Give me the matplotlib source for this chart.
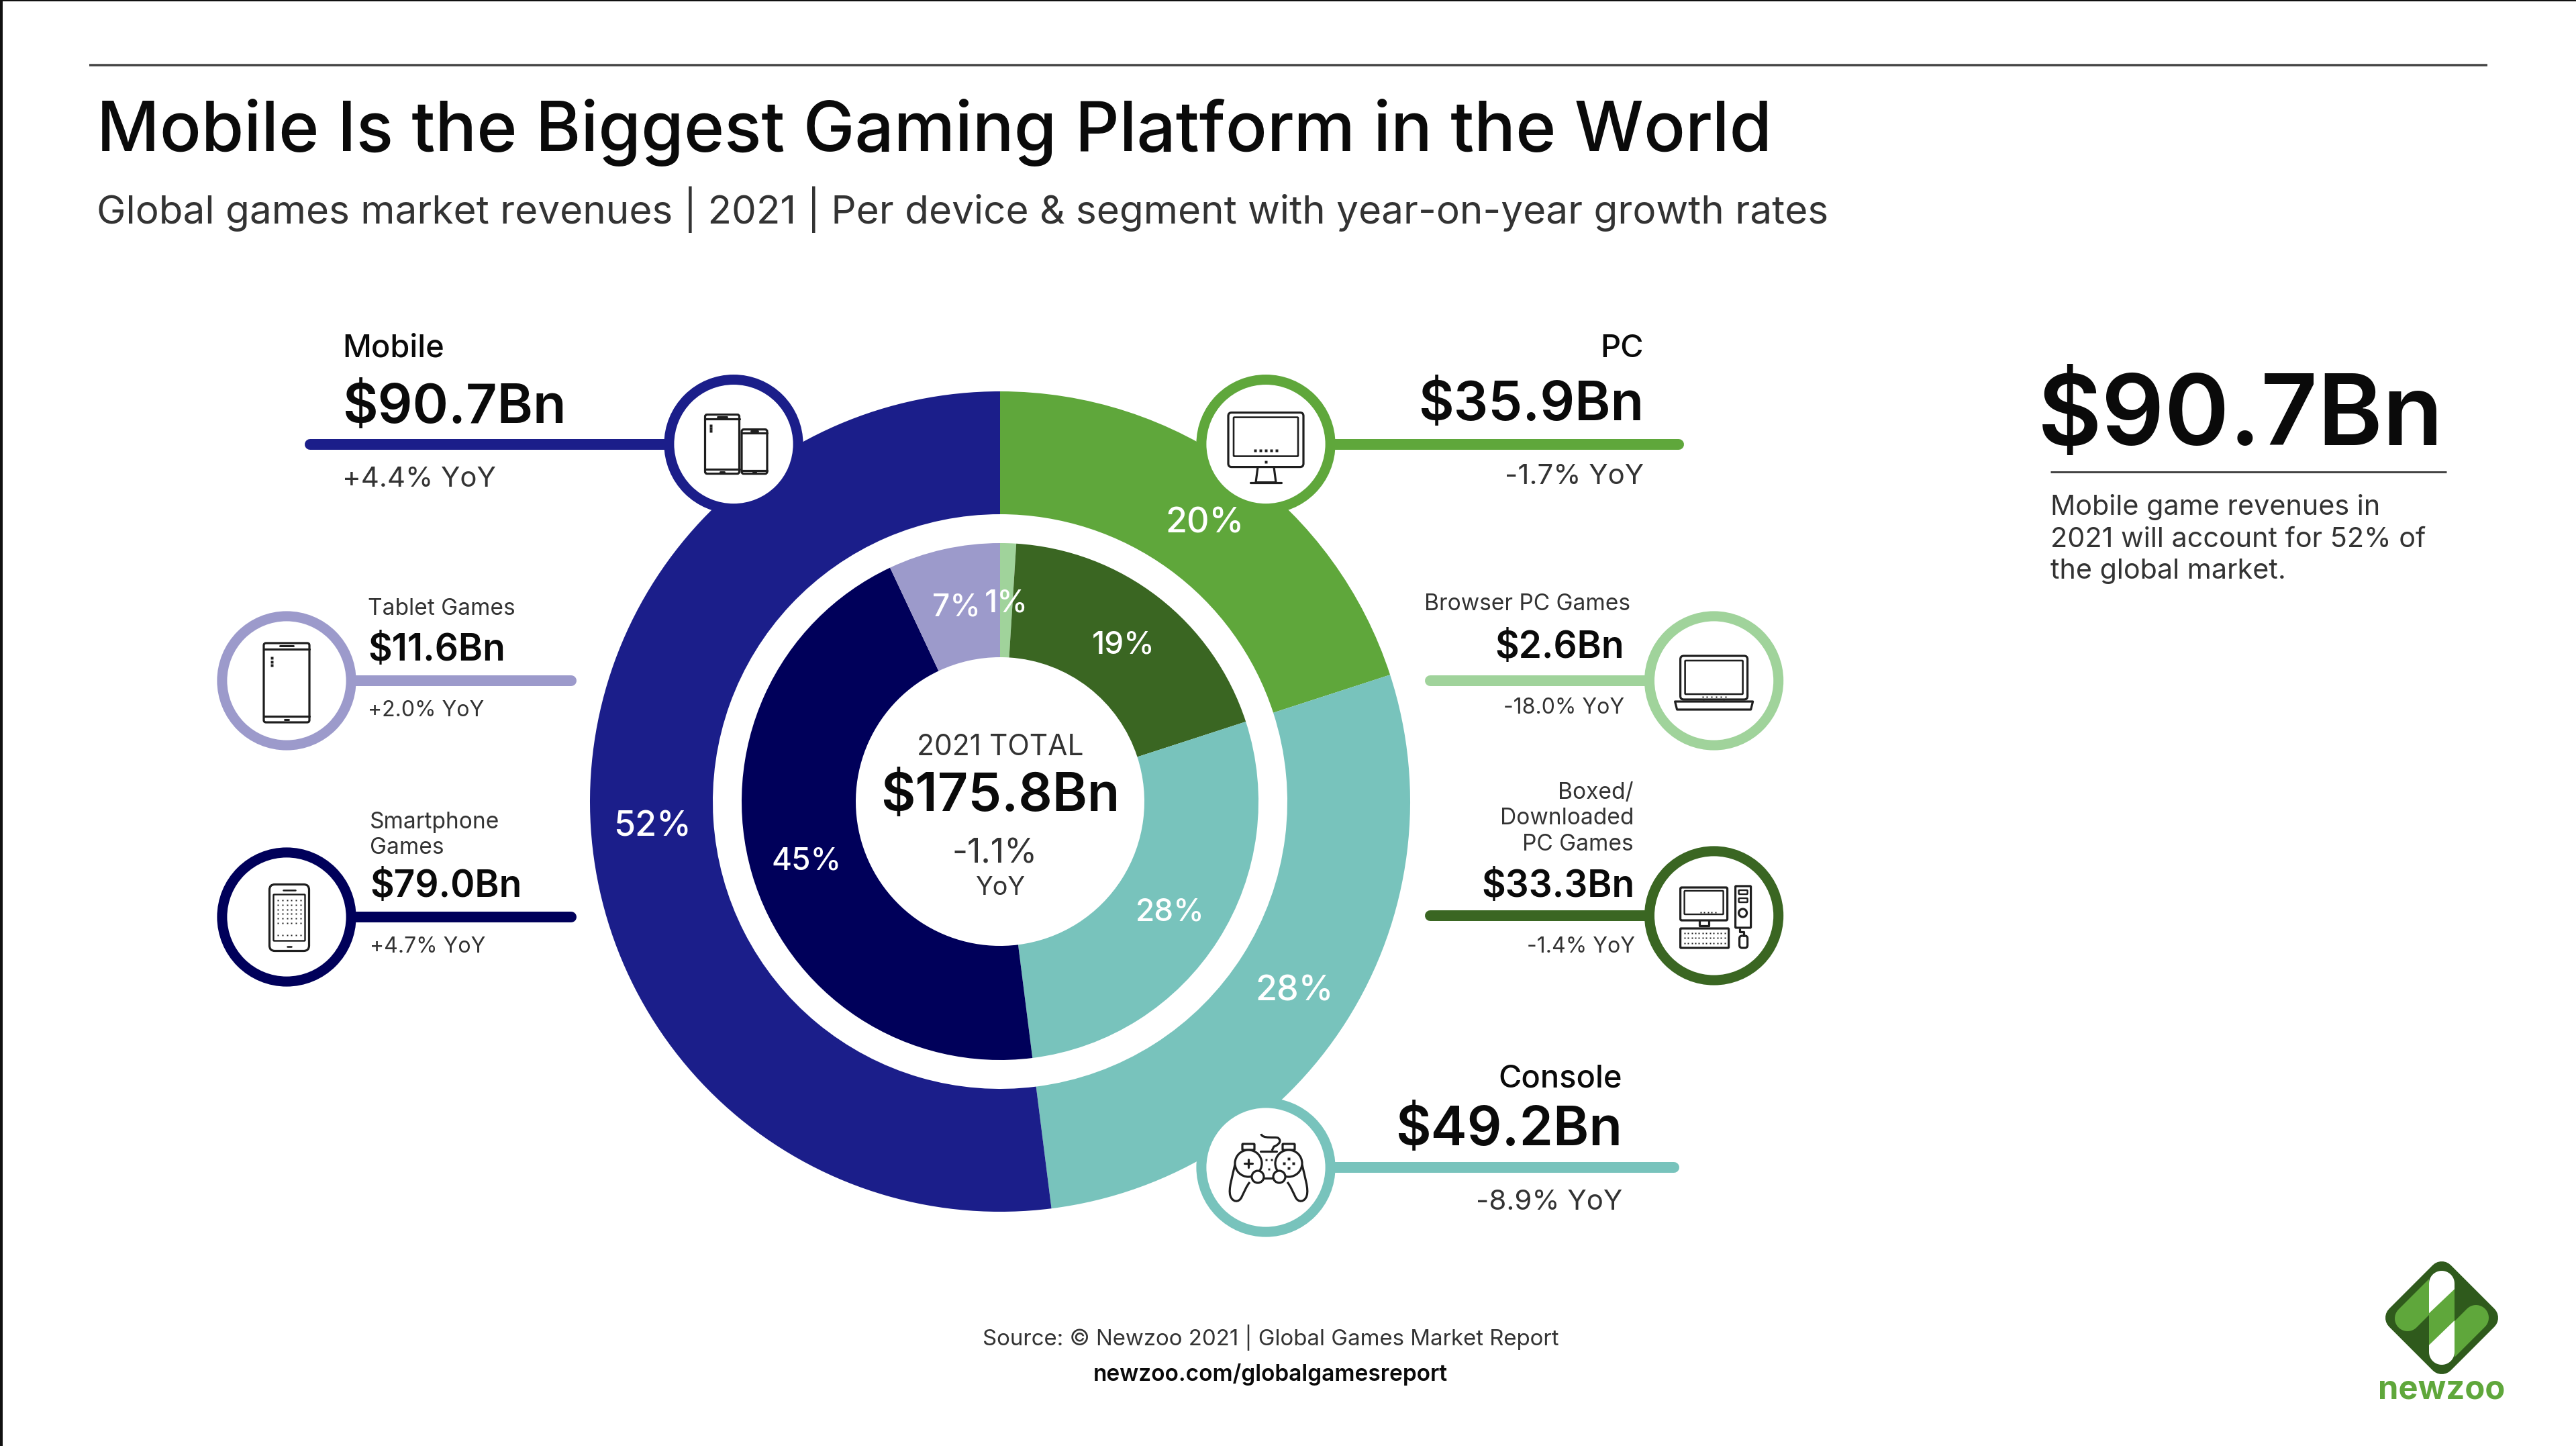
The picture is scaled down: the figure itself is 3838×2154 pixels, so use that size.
#!/usr/bin/env python3
"""Global games market revenues 2021, nested donut with callouts."""

import matplotlib

matplotlib.use("Agg")

import matplotlib.pyplot as plt
import numpy as np
from matplotlib.patches import Circle, FancyBboxPatch, Polygon, Rectangle, PathPatch
from matplotlib.path import Path

W, H = 3838, 2154
PX = 0.72  # pixels to points at dpi=100

plt.rcParams["font.family"] = ["Inter", "DejaVu Sans"]

INK = "#0a0a0a"
GREY = "#333333"
ICON = "#1e1e1e"

# outer ring, clockwise from the top
outer_names = ["PC", "Console", "Mobile"]
outer_share = [20, 28, 52]
outer_colors = ["#5FA73B", "#78C3BC", "#1B1E8A"]

# inner ring, clockwise from the top
inner_names = ["Browser PC Games", "Boxed/Downloaded PC Games", "Console", "Smartphone Games", "Tablet Games"]
inner_share = [1, 19, 28, 45, 7]
inner_colors = ["#A0D39B", "#3A6622", "#78C3BC", "#00005A", "#9C9ACB"]

# callouts
mobile_rev, mobile_yoy = 90.7, 4.4
tablet_rev, tablet_yoy = 11.6, 2.0
phone_rev, phone_yoy = 79.0, 4.7
pc_rev, pc_yoy = 35.9, -1.7
browser_rev, browser_yoy = 2.6, -18.0
boxed_rev, boxed_yoy = 33.3, -1.4
console_rev, console_yoy = 49.2, -8.9
total_rev, total_yoy = 175.8, -1.1

CX, CY = 1490, 1194
R_RING = 103.6
ICON_LW = 3.2


def money(v):
    return f"${v:.1f}Bn"


def yoy(v):
    return f"{v:+.1f}% YoY"


fig = plt.figure(figsize=(W / 100, H / 100), dpi=100, facecolor="white")
ax = fig.add_axes([0, 0, 1, 1])

# y axis runs downward, so pie angles run clockwise from -90
ax.pie(outer_share, colors=outer_colors, radius=611, center=(CX, CY), startangle=-90,
       wedgeprops={"width": 611 - 428, "linewidth": 0})
ax.pie(inner_share, colors=inner_colors, radius=385, center=(CX, CY), startangle=-90,
       wedgeprops={"width": 385 - 215, "linewidth": 0})
ax.set_xlim(0, W)
ax.set_ylim(H, 0)
ax.set_aspect("auto")
ax.axis("off")


def label(x, y, s, px, ha="left", color=INK, weight="normal"):
    ax.text(x, y, s, fontsize=px * PX, ha=ha, va="baseline", color=color, fontweight=weight, zorder=8)


def hline(x0, x1, y, color, px=16):
    ax.plot([x0, x1], [y, y], color=color, lw=px * PX, solid_capstyle="round", zorder=3)


def ring(x, y, color):
    ax.add_patch(Circle((x, y), R_RING - 7.5, fc="white", ec=color, lw=15 * PX, zorder=4))


def rrect(x0, y0, x1, y1, r=4, lw=ICON_LW, fc="none"):
    ax.add_patch(FancyBboxPatch((x0, y0), x1 - x0, y1 - y0, boxstyle=f"round,pad=0,rounding_size={r}",
                                fc=fc, ec=ICON, lw=lw * PX, zorder=6))


def stroke(xs, ys, lw=ICON_LW):
    ax.plot(xs, ys, color=ICON, lw=lw * PX, solid_capstyle="round", zorder=6)


def dots(xs, ys, px=2.6):
    xx, yy = np.meshgrid(xs, ys)
    ax.plot(xx.ravel(), yy.ravel(), ls="none", marker="s", ms=px * PX, mfc=ICON, mec="none", zorder=6)


def device(x, y, w, h, dot_col=True):
    """Tablet or phone seen from the front."""
    l, r, t, b = x - w / 2, x + w / 2, y - h / 2, y + h / 2
    bar = h * 0.075
    rrect(l, t, r, b, r=max(3, w * 0.05))
    stroke([l, r], [t + bar, t + bar])
    stroke([l, r], [b - bar, b - bar])
    stroke([x - w * 0.14, x + w * 0.14], [t + bar * 0.5, t + bar * 0.5], lw=3)
    stroke([x - w * 0.05, x + w * 0.05], [b - bar * 0.45, b - bar * 0.45], lw=3)
    if dot_col:
        dots([l + w * 0.17], [t + h * 0.19, t + h * 0.235, t + h * 0.28], px=3.2)


def icon_smartphone(x, y):
    w, h = 59, 99
    rrect(x - w / 2, y - h / 2, x + w / 2, y + h / 2, r=8)
    rrect(x - w / 2 + 6, y - h / 2 + 15, x + w / 2 - 6, y + h / 2 - 15, r=1, lw=2.4)
    stroke([x - 9, x + 9], [y - h / 2 + 8, y - h / 2 + 8], lw=2.6)
    stroke([x - 3, x + 3], [y + h / 2 - 7, y + h / 2 - 7], lw=2.6)
    dots(np.linspace(x - 17, x + 17, 6), np.linspace(y - 26, y + 8, 6))
    dots(np.linspace(x - 17, x + 17, 6), [y + 26])


def icon_monitor(x, y):
    rrect(x - 56, y - 47, x + 56, y + 34, r=5)
    rrect(x - 48, y - 40, x + 48, y + 18, r=1, lw=2.6)
    dots(np.linspace(x - 16, x + 16, 5), [y + 9], px=3.4)
    dots([x], [y + 26], px=4)
    stroke([x - 12, x - 15, x + 15, x + 12], [y + 34, y + 57, y + 57, y + 34])
    stroke([x - 23, x + 23], [y + 57, y + 57])


def icon_laptop(x, y):
    rrect(x - 50, y - 37, x + 50, y + 28, r=5)
    rrect(x - 43, y - 30, x + 43, y + 20, r=1, lw=2.6)
    dots(np.linspace(x - 17, x + 17, 6), [y + 24], px=2.6)
    ax.add_patch(Polygon([[x - 58, y + 31], [x + 58, y + 31], [x + 55, y + 43], [x - 55, y + 43]],
                         closed=True, fc="white", ec=ICON, lw=ICON_LW * PX, joinstyle="round", zorder=7))
    stroke([x - 15, x - 12, x + 12, x + 15], [y + 31, y + 35, y + 35, y + 31])


def icon_desktop(x, y):
    # screen
    rrect(x - 50, y - 42, x + 20, y + 7, r=2)
    rrect(x - 44, y - 37, x + 14, y - 2, r=1, lw=2.4)
    dots(np.linspace(x - 20, x + 2, 5), [y - 5], px=2.2)
    stroke([x - 22, x - 22, x - 8, x - 8], [y + 7, y + 15, y + 15, y + 7])
    # tower
    rrect(x + 32, y - 44, x + 55, y + 18, r=1)
    rrect(x + 37, y - 38, x + 50, y - 32, r=1, lw=2.4)
    rrect(x + 37, y - 26, x + 50, y - 20, r=1, lw=2.4)
    ax.add_patch(Circle((x + 43, y - 4), 6, fc="none", ec=ICON, lw=ICON_LW * PX, zorder=6))
    # keyboard
    rrect(x - 50, y + 19, x + 22, y + 48, r=1)
    dots(np.linspace(x - 44, x + 16, 12), [y + 26, y + 33, y + 41], px=2.6)
    # mouse
    rrect(x + 38, y + 30, x + 50, y + 48, r=4)
    stroke([x + 44, x + 44, x + 38, x + 38], [y + 30, y + 24, y + 24, y + 20])


def icon_gamepad(x, y):
    # cable
    ax.add_patch(PathPatch(Path([(x - 11, y - 50), (x - 10, y - 42), (x + 10, y - 46), (x + 14, y - 44),
                                 (x + 20, y - 40), (x + 16, y - 34), (x + 8, y - 31), (x + 5, y - 25)],
                                [Path.MOVETO, Path.CURVE4, Path.CURVE4, Path.CURVE4, Path.CURVE4,
                                 Path.CURVE4, Path.CURVE4, Path.LINETO]),
                           fc="none", ec=ICON, lw=ICON_LW * PX, zorder=6))
    for s in (-1, 1):
        # shoulder button
        rrect(x + s * 30 - 9, y - 35, x + s * 30 + 9, y - 26, r=1)
        # grip
        ax.add_patch(PathPatch(Path([(x + s * 50, y - 4), (x + s * 54, y + 14), (x + s * 60, y + 32), (x + s * 57, y + 42),
                                     (x + s * 54, y + 52), (x + s * 44, y + 53), (x + s * 40, y + 44),
                                     (x + s * 36, y + 36), (x + s * 33, y + 28), (x + s * 28, y + 22)],
                                    [Path.MOVETO] + [Path.CURVE4] * 9),
                               fc="none", ec=ICON, lw=ICON_LW * PX, zorder=6))
        # pad circle and thumbstick
        ax.add_patch(Circle((x + s * 30, y - 6), 20, fc="white", ec=ICON, lw=ICON_LW * PX, zorder=6))
        ax.add_patch(Circle((x + s * 16, y + 14), 9, fc="white", ec=ICON, lw=ICON_LW * PX, zorder=7))
    stroke([x - 12, x + 12], [y - 24, y - 24])
    stroke([x - 8, x + 8], [y + 16, y + 16])
    stroke([x - 36, x - 24], [y - 6, y - 6])
    stroke([x - 30, x - 30], [y - 12, y])
    dots([x + 30], [y - 13, y + 1], px=4)
    dots([x + 23, x + 37], [y - 6], px=4)
    dots([x - 4, x + 4], [y - 12], px=3)
    dots([x], [y + 2], px=3)


def capsule(p0, p1, r):
    """Outline of a pill shape between two points."""
    p0, p1 = np.asarray(p0, float), np.asarray(p1, float)
    a = np.arctan2(*(p1 - p0)[::-1])
    t0 = np.linspace(a + np.pi / 2, a + 3 * np.pi / 2, 24)
    t1 = t0 + np.pi
    return np.vstack([p0 + r * np.c_[np.cos(t0), np.sin(t0)], p1 + r * np.c_[np.cos(t1), np.sin(t1)]])


def logo(x, y):
    dark, light = "#2F5A1C", "#5FA73B"
    d = 65
    ax.add_patch(Polygon([[x, y - d], [x + d, y], [x, y + d], [x - d, y]], closed=True, fc=dark, ec=dark,
                         lw=38 * PX, joinstyle="round", zorder=5))
    left = Polygon(capsule((x - 51, y + 1), (x + 19, y - 69), 19), closed=True, fc=light, ec="none", zorder=6)
    ax.add_patch(left)
    left.set_clip_path(Rectangle((x - 120, y - 120), 101, 240, transform=ax.transData))
    right = Polygon(capsule((x + 51, y), (x - 19, y + 70), 19), closed=True, fc=light, ec="none", zorder=6)
    ax.add_patch(right)
    right.set_clip_path(Rectangle((x + 19, y - 120), 101, 240, transform=ax.transData))
    ax.add_patch(Polygon(capsule((x, y - 51), (x, y + 51), 19), closed=True, fc="white", ec="none", zorder=6))
    ax.add_patch(Polygon([[x - 19, y - 6.7], [x + 19, y - 42.7], [x + 19, y + 4], [x - 19, y + 40.7]],
                         closed=True, fc=light, ec="none", zorder=7))
    ax.text(x, 2084, "newzoo", fontsize=49 * PX, ha="center", va="baseline", color=light, fontweight="bold", zorder=8)


# frame lines
ax.add_patch(Rectangle((0, 0), 4, H, fc="#111111", ec="none", zorder=9))
ax.add_patch(Rectangle((0, 0), W, 1.5, fc="#111111", ec="none", zorder=9))
ax.plot([133, 3706], [97, 97], color="#444444", lw=3.5 * PX, solid_capstyle="butt", zorder=3)

# heading
label(144, 225, "Mobile Is the Biggest Gaming Platform in the World", 102.8, weight="medium")
label(144, 333, "Global games market revenues | 2021 | Per device & segment with year-on-year growth rates", 58.4, color=GREY)

# callout lines, the round cap adds half a line width at the free end
hline(462, 1093, 661.6, outer_colors[2])
hline(427, 851, 1014, inner_colors[4])
hline(427, 851, 1366, inner_colors[3])
hline(1886, 2501, 661.6, outer_colors[0])
hline(2131, 2553, 1014, inner_colors[0])
hline(2131, 2553, 1364, inner_colors[1])
hline(1886, 2494, 1739, outer_colors[1])

ring(1093, 661.6, outer_colors[2])
ring(427, 1014, inner_colors[4])
ring(427, 1366, inner_colors[3])
ring(1886, 661.6, outer_colors[0])
ring(2553.6, 1014, inner_colors[0])
ring(2553.6, 1364, inner_colors[1])
ring(1886, 1739, outer_colors[1])

device(1076, 661.6, 51, 88)
device(1124, 672.7, 38, 66, dot_col=False)
device(427, 1017, 68, 118)
icon_smartphone(431, 1367)
icon_monitor(1886, 661.6)
icon_laptop(2553.6, 1014)
icon_desktop(2553.6, 1364)
icon_gamepad(1890, 1739)

# left callouts
label(510, 532, outer_names[2], 47, weight="medium")
label(510, 629.5, money(mobile_rev), 81, weight="semibold")
label(510, 725, yoy(mobile_yoy), 42, color=GREY)

label(548, 915.5, inner_names[4], 33.5, color=GREY)
label(548, 984, money(tablet_rev), 55, weight="semibold")
label(548, 1067, yoy(tablet_yoy), 32, color=GREY)

label(551, 1233.6, "Smartphone", 33.5, color=GREY)
label(551, 1272, "Games", 33.5, color=GREY)
label(551, 1336, money(phone_rev), 55, weight="semibold")
label(551, 1419, yoy(phone_yoy), 32, color=GREY)

# right callouts
label(2449, 532, outer_names[0], 47, ha="right", weight="medium")
label(2449, 625.5, money(pc_rev), 81, ha="right", weight="semibold")
label(2449, 721, yoy(pc_yoy), 42, ha="right", color=GREY)

label(2429, 909, inner_names[0], 33.5, ha="right", color=GREY)
label(2420, 980.5, money(browser_rev), 55, ha="right", weight="semibold")
label(2420, 1063, yoy(browser_yoy), 32, ha="right", color=GREY)

label(2434, 1190, "Boxed/", 33.5, ha="right", color=GREY)
label(2434, 1228, "Downloaded", 33.5, ha="right", color=GREY)
label(2434, 1267, "PC Games", 33.5, ha="right", color=GREY)
label(2436, 1336, money(boxed_rev), 55, ha="right", weight="semibold")
label(2436, 1419, yoy(boxed_yoy), 32, ha="right", color=GREY)

label(2417, 1619, outer_names[1], 47, ha="right", weight="medium")
label(2417, 1706, money(console_rev), 81, ha="right", weight="semibold")
label(2417, 1802, yoy(console_yoy), 42, ha="right", color=GREY)

# ring percentages
outer_pos = [(1795, 780), (1929, 1477), (972, 1232)]
inner_pos = [(1499, 900), (1674, 962), (1743, 1359), (1202, 1283), (1425, 906)]
for v, (x, y) in zip(outer_share, outer_pos):
    ax.text(x, y, f"{v}%", fontsize=52 * PX, color="white", ha="center", va="center", fontweight="medium", zorder=8)
for v, (x, y) in zip(inner_share, inner_pos):
    ax.text(x, y, f"{v}%", fontsize=46 * PX, color="white", ha="center", va="center", fontweight="medium", zorder=8)

# centre
label(CX, 1125, "2021 TOTAL", 42.5, ha="center", color=GREY)
label(CX, 1208, money(total_rev), 79, ha="center", weight="semibold")
label(1482, 1285, f"{total_yoy:.1f}%", 50, ha="center", color=GREY)
label(CX, 1333, "YoY", 38, ha="center", color=GREY)

# side note
label(3036, 663, money(mobile_rev), 147, weight="semibold")
ax.plot([3055, 3645], [703, 703], color="#444444", lw=3 * PX, solid_capstyle="butt", zorder=3)
label(3055, 767, "Mobile game revenues in", 41.3, color=GREY)
label(3055, 815, "2021 will account for 52% of", 41.3, color=GREY)
label(3055, 862, "the global market.", 41.3, color=GREY)

# footer
label(1893, 2004.5, "Source: © Newzoo 2021 | Global Games Market Report", 33, ha="center", color=GREY)
label(1893, 2056.5, "newzoo.com/globalgamesreport", 33.4, ha="center", weight="semibold")

logo(3638, 1963)

fig.savefig("out.png", dpi=100, facecolor="white")
